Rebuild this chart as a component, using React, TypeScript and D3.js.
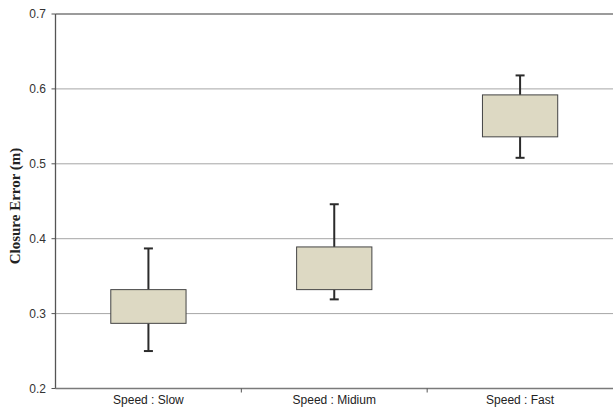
import React from "react";
import * as d3 from "d3";

const categories = ["Speed : Slow", "Speed : Midium", "Speed : Fast"];
const whiskerLow = [0.25, 0.319, 0.508];
const boxLow = [0.287, 0.332, 0.536];
const boxHigh = [0.332, 0.389, 0.592];
const whiskerHigh = [0.387, 0.446, 0.618];
const yTicks = [0.2, 0.3, 0.4, 0.5, 0.6, 0.7];

const W = 613;
const H = 410;
const left = 55.5;
const right = 613;
const top = 14;
const bottom = 388.5;

export default function App() {
  const x = d3.scaleBand<string>().domain(categories).range([left, right]).paddingInner(0).paddingOuter(0);
  const y = d3.scaleLinear().domain([0.2, 0.7]).range([bottom, top]);
  const boxW = x.bandwidth() * 0.405;
  const capW = 9;
  const font = "Arial, 'Liberation Sans', sans-serif";

  return (
    <svg
      width={W}
      height={H}
      style={{ position: "fixed", left: 0, top: 0, background: "#fff" }}
    >
      {/* horizontal gridlines */}
      {yTicks.slice(1, -1).map((t) => (
        <line key={"g" + t} x1={left} x2={right} y1={y(t)} y2={y(t)} stroke="#a6a6a6" strokeWidth={1} />
      ))}
      {/* top border */}
      <line x1={left} x2={right} y1={y(0.7)} y2={y(0.7)} stroke="#7a7a7a" strokeWidth={1.5} />
      {/* axes */}
      <line x1={left} x2={left} y1={top} y2={bottom} stroke="#555" strokeWidth={1.3} />
      <line x1={left} x2={right} y1={bottom} y2={bottom} stroke="#7a7a7a" strokeWidth={1.5} />
      {yTicks.map((t) => (
        <g key={"t" + t}>
          <line x1={left - 4} x2={left} y1={y(t)} y2={y(t)} stroke="#555" strokeWidth={1} />
          <text
            x={46}
            y={y(t)}
            dy="0.35em"
            textAnchor="end"
            fontFamily={font}
            fontSize={12}
            fill="#333"
          >
            {d3.format(".1f")(t)}
          </text>
        </g>
      ))}
      {/* category separators on x axis */}
      {categories.slice(1).map((c) => (
        <line key={"s" + c} x1={x(c)!} x2={x(c)!} y1={bottom} y2={bottom + 4} stroke="#555" strokeWidth={1} />
      ))}
      {categories.map((c) => (
        <text
          key={"l" + c}
          x={x(c)! + x.bandwidth() / 2}
          y={404}
          textAnchor="middle"
          fontFamily={font}
          fontSize={12}
          fill="#222"
        >
          {c}
        </text>
      ))}
      {/* boxes and whiskers */}
      {categories.map((c, i) => {
        const cx = x(c)! + x.bandwidth() / 2;
        return (
          <g key={"b" + c}>
            <line x1={cx} x2={cx} y1={y(whiskerHigh[i])} y2={y(boxHigh[i])} stroke="#2b2b2b" strokeWidth={2} />
            <line x1={cx} x2={cx} y1={y(boxLow[i])} y2={y(whiskerLow[i])} stroke="#2b2b2b" strokeWidth={2} />
            <line x1={cx - capW / 2} x2={cx + capW / 2} y1={y(whiskerHigh[i])} y2={y(whiskerHigh[i])} stroke="#2b2b2b" strokeWidth={2} />
            <line x1={cx - capW / 2} x2={cx + capW / 2} y1={y(whiskerLow[i])} y2={y(whiskerLow[i])} stroke="#2b2b2b" strokeWidth={2} />
            <rect
              x={cx - boxW / 2}
              y={y(boxHigh[i])}
              width={boxW}
              height={y(boxLow[i]) - y(boxHigh[i])}
              fill="#ddd9c3"
              stroke="#444"
              strokeWidth={1}
            />
          </g>
        );
      })}
      <text
        transform={`translate(20, ${206}) rotate(-90)`}
        textAnchor="middle"
        fontFamily="'Times New Roman', 'Liberation Serif', serif"
        fontWeight="bold"
        fontSize={15}
        fill="#222"
      >
        Closure Error (m)
      </text>
    </svg>
  );
}
